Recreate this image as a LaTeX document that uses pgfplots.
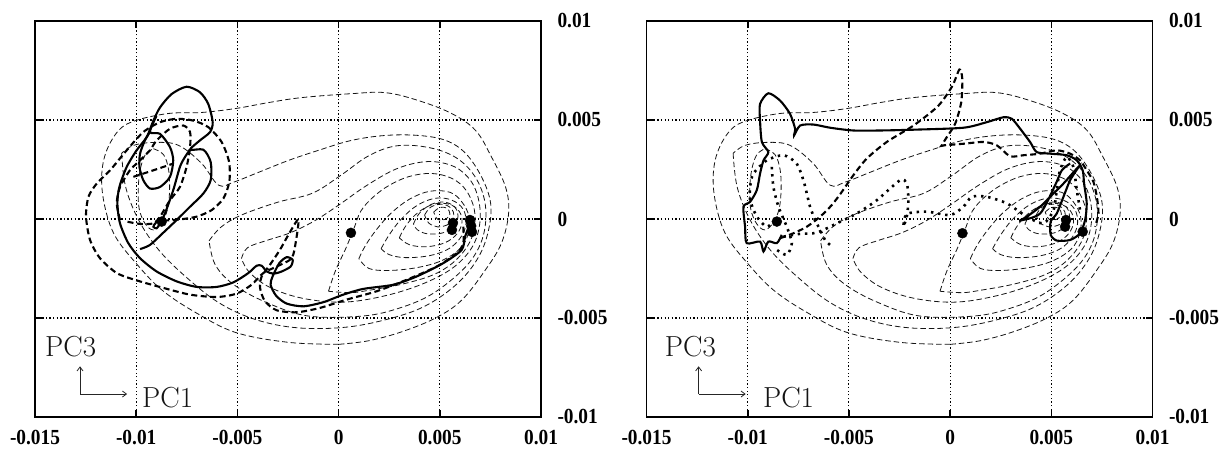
\documentclass[border=0pt]{standalone}
\usepackage{fontspec}
\usepackage{graphicx}
\usepackage{pgfplots}
\pgfplotsset{compat=1.18}
\usetikzlibrary{arrows.meta}
\newfontfamily\tickfont{Liberation Serif}
\newcommand{\tl}[1]{\scalebox{0.9}[1]{\tickfont\fontsize{21.5}{21.5}\selectfont\bfseries #1}}

\pgfplotsset{
 panel/.style={
  scale only axis, width=506pt, height=396pt,
  xmin=-15, xmax=10, ymin=-10, ymax=10,
  xtick={-15,-10,-5,0,5,10}, ytick={-10,-5,0,5,10},
  xticklabels={\tl{-0.015},\tl{-0.01},\tl{-0.005},\tl{0},\tl{0.005},\tl{0.01}},
  yticklabels={\tl{-0.01},\tl{-0.005},\tl{0},\tl{0.005},\tl{0.01}},
  yticklabel pos=right,
  xtick pos=both, ytick pos=both,
  tick align=inside,
  major tick length=7pt,
  every tick/.style={black, line width=1.6pt},
  axis line style={line width=1.6pt},
  grid=major,
  major grid style={black, line width=1.1pt, dash pattern=on 1.3pt off 2.3pt},
  xticklabel style={yshift=-10pt},
  yticklabel style={xshift=13pt},
 },
 cont/.style={no markers, smooth, tension=0.6, black!92, line width=0.8pt, dash pattern=on 5.5pt off 3pt},
 tsol/.style={no markers, smooth, tension=0.45, black, line width=2.1pt},
 tdash/.style={no markers, smooth, tension=0.45, black, line width=2.1pt, dash pattern=on 6pt off 3.5pt},
 tdot/.style={no markers, smooth, tension=0.45, black, line width=2.6pt, dash pattern=on 2.4pt off 4.8pt},
 dots/.style={only marks, mark=*, mark size=5pt, black},
}

\newcommand{\contours}{%
\addplot[cont] coordinates {(0,-6.33) (-2.47,-6.23) (-5.09,-5.73) (-7.07,-4.72) (-8.75,-3.57) (-10.03,-2.21) (-11.02,-0.90) (-11.51,0.45) (-11.71,1.96) (-11.51,3.32) (-10.87,4.47) (-10.03,4.97) (-8.40,5.33) (-6.77,5.38) (-5.09,5.58) (-3.46,5.88) (-1.83,6.13) (0.64,6.33) (2.32,6.38) (3.95,5.98) (5.58,5.33) (6.77,4.47) (7.56,3.12) (8.25,1.61) (8.40,0.30) (8.05,-1.21) (7.26,-2.56) (6.08,-4.1) (4.79,-5.0) (3.11,-5.7) (1.48,-6.15) (0,-6.33)};
\addplot[cont] coordinates {(-10.72,3.32) (-10.52,1.61) (-9.88,-0.05) (-8.89,-1.56) (-7.56,-2.91) (-5.93,-4.22) (-4.10,-5.08) (-1.98,-5.5) (0.49,-5.45) (2.82,-4.95) (4.45,-4.3) (5.93,-3.2) (6.92,-1.91) (7.41,-0.55) (7.51,0.80) (7.07,2.11) (6.27,3.32) (5.29,3.97) (3.95,4.22) (2.32,4.22) (0.64,3.97) (-0.99,3.47) (-2.47,2.96) (-3.95,2.36) (-5.19,1.86) (-5.93,1.71) (-6.77,2.81) (-7.91,3.72) (-9.04,3.87) (-10.13,3.72) (-10.72,3.32)};
\addplot[cont] coordinates {(-6.4,-1.1) (-5.8,-0.4) (-4.8,0.2) (-3.0,0.85) (-1.3,1.3) (0.1,2.2) (1.5,3.2) (2.9,3.7) (4.5,3.6) (5.8,3.1) (6.7,2.2) (7.2,1.0) (7.25,-0.3) (6.9,-1.5) (6.1,-2.6) (4.6,-3.8) (3.0,-4.5) (1.2,-4.9) (-1.5,-4.9) (-3.6,-4.2) (-5.2,-3.3) (-6.1,-2.3) (-6.4,-1.1)};
\addplot[cont] coordinates {(-4.8,-2.0) (-4.5,-1.45) (-3.6,-1.1) (-2.4,-0.7) (-1.2,-0.1) (0.0,0.7) (1.4,1.7) (2.9,2.55) (4.4,2.9) (5.7,2.65) (6.55,1.9) (6.95,0.8) (6.95,-0.4) (6.55,-1.5) (5.6,-2.5) (4.1,-3.3) (2.2,-3.9) (0.2,-4.2) (-1.8,-4.0) (-3.4,-3.45) (-4.4,-2.7) (-4.8,-2.0)};
\addplot[cont] coordinates {(-0.5,-3.65) (-0.15,-2.6) (0.35,-1.5) (0.75,-0.5) (1.1,0.4) (1.7,1.1) (2.5,1.7) (3.5,2.15) (4.6,2.3) (5.6,2.05) (6.3,1.45) (6.7,0.5) (6.7,-0.5) (6.35,-1.4) (5.6,-2.25) (4.6,-2.85) (3.1,-3.3) (1.5,-3.6) (0.6,-3.72) (-0.5,-3.65)};
\addplot[cont] coordinates {(1.0,-2.0) (1.35,-1.3) (1.9,-0.5) (2.6,0.3) (3.5,1.0) (4.5,1.4) (5.5,1.35) (6.1,0.85) (6.45,0.1) (6.4,-0.75) (6.0,-1.5) (5.1,-2.1) (3.9,-2.45) (2.5,-2.6) (1.5,-2.5) (1.0,-2.0)};
\addplot[cont] coordinates {(2.1,-1.5) (2.5,-0.8) (3.1,0.0) (3.9,0.7) (4.8,1.05) (5.6,0.95) (6.15,0.5) (6.3,-0.2) (6.05,-0.9) (5.45,-1.5) (4.5,-1.85) (3.3,-1.95) (2.5,-1.8) (2.1,-1.5)};
\addplot[cont] coordinates {(3.0,-0.95) (3.35,-0.3) (3.95,0.35) (4.7,0.75) (5.45,0.75) (5.95,0.4) (6.1,-0.15) (5.85,-0.75) (5.25,-1.2) (4.35,-1.4) (3.5,-1.3) (3.0,-0.95)};
\addplot[cont] coordinates {(3.7,-0.25) (4.0,0.3) (4.6,0.75) (5.25,0.85) (5.75,0.6) (5.9,0.15) (5.7,-0.35) (5.15,-0.7) (4.4,-0.75) (3.9,-0.55) (3.7,-0.25)};
\addplot[cont] coordinates {(4.25,0.2) (4.55,0.6) (5.1,0.75) (5.55,0.55) (5.7,0.15) (5.45,-0.25) (4.9,-0.4) (4.45,-0.2) (4.25,0.2)};
\addplot[cont] coordinates {(4.7,0.35) (5.0,0.58) (5.35,0.55) (5.5,0.25) (5.3,0.0) (4.9,-0.02) (4.7,0.35)};
\addplot[cont] coordinates {(-9.15,3.55) (-8.65,3.25) (-8.4,2.5) (-8.35,1.5) (-8.45,0.5) (-8.75,-0.2) (-9.15,-0.55) (-9.55,-0.25) (-9.85,0.5) (-9.9,1.5) (-9.8,2.5) (-9.55,3.25) (-9.15,3.55)};
}

\newcommand{\pclabels}[4]{%
\node[anchor=base west, inner sep=0pt, text=black!92, font=\fontsize{29}{29}\selectfont] at (rel axis cs:#1,0.153) {PC3};
\node[anchor=base west, inner sep=0pt, text=black!92, font=\fontsize{29}{29}\selectfont] at (rel axis cs:#2,0.023) {PC1};
\draw[black!85, line width=0.8pt, -{Straight Barb[length=4pt,width=6pt]}] (rel axis cs:#3,0.058) -- (rel axis cs:#3,0.128);
\draw[black!85, line width=0.8pt, -{Straight Barb[length=4pt,width=6pt]}] (rel axis cs:#3,0.058) -- (rel axis cs:#4,0.058);
}

\begin{document}
\begin{tikzpicture}
\path[use as bounding box] (0,0) rectangle (1230pt,450pt);

% ---------------- left panel ----------------
\begin{axis}[panel, at={(35pt,33pt)}, anchor=south west]
\contours
\addplot[tsol] coordinates {(6.49,-0.22) (6.25,-0.89) (6.08,-1.56) (5.17,-2.23) (3.86,-2.90) (2.70,-3.32) (1.22,-3.53) (0.23,-3.82) (-0.75,-4.20) (-1.74,-4.41) (-2.57,-4.27) (-3.09,-3.87) (-3.36,-3.32) (-3.26,-2.90) (-2.93,-2.23) (-2.57,-1.93) (-2.27,-2.06) (-2.37,-2.40) (-2.81,-2.65) (-3.22,-2.76) (-3.55,-2.65) (-3.80,-2.36) (-4.05,-2.36) (-4.46,-2.73) (-5.20,-3.20) (-6.02,-3.43) (-7.01,-3.43) (-8.00,-3.15) (-8.99,-2.65) (-9.81,-1.98) (-10.39,-1.22) (-10.80,-0.22) (-10.93,0.79) (-10.83,1.62) (-10.47,2.63) (-9.98,3.47) (-9.48,4.14) (-9.15,4.97) (-8.82,5.64) (-8.25,6.31) (-7.51,6.68) (-6.85,6.40) (-6.44,5.81) (-6.22,4.89) (-6.35,4.39) (-6.85,3.97) (-7.34,3.50) (-6.68,3.50) (-6.32,2.88) (-6.32,1.96) (-6.68,1.29) (-7.34,0.62) (-8.00,-0.05) (-8.66,-0.69) (-9.32,-1.31) (-9.81,-1.52)};
\addplot[tsol] coordinates {(-7.34,3.50) (-7.59,3.13) (-7.84,2.63) (-8.17,1.46) (-8.58,0.28) (-8.82,-0.22) (-8.99,-0.47) (-9.15,-0.39) (-9.02,-0.18) (-8.69,-0.08)};
\addplot[tsol] coordinates {(-9.0,5.2) (-9.32,4.39) (-8.82,4.30) (-8.33,3.63) (-8.17,2.96) (-8.33,2.13) (-8.82,1.62) (-9.32,1.54) (-9.65,1.96) (-9.84,2.63) (-9.81,3.30) (-9.57,3.97) (-9.32,4.39)};
\addplot[tdash] coordinates {(6.16,-0.39) (6.16,-1.22) (5.83,-1.73) (4.85,-2.40) (3.36,-3.07) (1.88,-3.65) (0.40,-4.07) (-0.92,-4.49) (-2.07,-4.71) (-3.06,-4.61) (-3.64,-4.15) (-3.88,-3.48) (-3.80,-2.90) (-3.39,-2.31) (-2.90,-1.56) (-2.48,-0.80) (-1.99,-0.02) (-2.10,-1.06) (-2.32,-1.98) (-3.06,-2.40) (-3.72,-2.73) (-4.30,-3.32) (-5.04,-3.77) (-6.02,-3.94) (-7.34,-3.82) (-8.66,-3.48) (-9.98,-3.10) (-10.96,-2.73) (-11.79,-1.98) (-12.28,-1.06) (-12.48,0.12) (-12.36,1.12) (-11.95,1.79) (-11.29,2.46) (-10.47,3.47) (-9.65,4.39) (-8.82,4.89) (-8.00,5.06) (-7.18,4.97) (-6.44,4.64) (-5.78,3.89) (-5.41,2.88) (-5.40,1.88) (-5.69,1.04) (-6.27,0.45) (-7.01,0.12) (-7.84,-0.02) (-8.66,-0.08)};
\addplot[tdash] coordinates {(-10.80,-0.05) (-10.96,0.79) (-10.80,1.62) (-10.31,2.46) (-9.81,2.96) (-9.32,3.47) (-8.99,3.97) (-8.33,4.56) (-7.67,4.72) (-7.34,4.39) (-7.34,3.63) (-7.51,2.63) (-7.84,1.62) (-8.33,0.95) (-8.82,0.12) (-9.15,-0.22) (-9.81,-0.25) (-10.47,-0.13)};
\addplot[tdash] coordinates {(-10.14,2.13) (-9.15,2.46) (-8.17,2.80)};
\addplot[dots] coordinates {(5.65,-0.2) (5.6,-0.55) (6.49,-0.05) (6.59,-0.65) (6.55,-0.35) (0.61,-0.70) (-8.74,-0.13)};
\pclabels{0.0198}{0.2115}{0.089}{0.182}
\end{axis}

% ---------------- right panel ----------------
\begin{axis}[panel, at={(646.5pt,33pt)}, anchor=south west]
\contours
\addplot[tsol] coordinates {(-8.32,-0.80) (-8.56,-1.22) (-8.98,-1.14) (-9.22,-1.64) (-9.39,-1.14) (-10.05,-1.22) (-10.13,-0.39) (-10.21,0.62) (-9.88,0.87) (-9.55,1.46) (-9.39,2.29) (-9.22,2.96) (-8.98,3.38) (-9.30,3.89) (-9.39,4.97) (-9.39,5.81) (-8.98,6.35) (-8.40,5.98) (-7.91,5.31) (-7.66,4.56) (-7.71,4.22) (-7.41,4.72) (-6.75,4.77) (-5.93,4.61) (-4.78,4.47) (-3.46,4.47) (-1.81,4.51) (0.66,4.61) (1.81,4.89) (2.64,5.14) (3.05,5.06) (3.46,4.56) (3.95,3.89) (4.28,3.38) (4.94,3.30) (5.76,3.22) (6.26,2.96) (6.55,2.46) (6.62,1.79) (6.75,0.79) (6.67,-0.05) (6.42,-0.72) (5.93,-1.06) (5.27,-1.09) (4.97,-0.80) (4.97,-0.13) (5.27,0.28) (5.60,1.12) (5.93,1.96) (6.34,2.63) (5.60,1.79) (5.11,1.29) (4.45,0.62) (3.79,0.12) (3.46,-0.08) (4.45,0.28) (5.19,1.71) (5.52,2.46) (5.93,2.80)};
\addplot[tdash] coordinates {(-8.40,-0.97) (-7.74,-0.72) (-7.08,-0.39) (-6.42,0.12) (-5.85,0.70) (-5.35,1.37) (-4.78,2.21) (-4.12,3.05) (-3.13,3.89) (-1.81,4.72) (-0.6,5.7) (0.1,6.7) (0.46,7.55) (0.6,7.1) (0.55,5.9) (0.25,4.81) (-0.16,4.14) (-0.41,3.72) (-0.33,3.72) (0.66,3.80) (1.65,3.89) (2.31,3.72) (2.96,3.17) (3.62,3.22) (4.45,3.30) (5.27,3.47) (5.93,3.30) (6.42,2.96) (6.75,2.46) (7.08,1.88) (7.25,1.12) (7.33,0.28) (7.16,-0.39)};
\addplot[tdot] coordinates {(-8.65,-0.05) (-9.06,-0.39) (-9.55,0.12) (-9.88,0.95) (-9.88,1.62) (-9.72,2.29) (-9.06,2.96) (-8.23,3.22) (-7.58,2.80) (-7.25,1.96) (-7.08,1.29) (-6.92,0.62) (-6.67,-0.05) (-6.42,-0.55) (-6.18,-1.06) (-5.93,-1.31)};
\addplot[tdot] coordinates {(-8.81,2.63) (-8.73,1.62) (-8.48,0.62) (-8.07,-0.39) (-7.82,-1.22) (-8.07,-1.81) (-8.56,-1.56)};
\addplot[tdot] coordinates {(-8.23,-0.89) (-7.41,-0.75) (-6.59,-0.69) (-5.60,-0.22) (-4.61,0.28) (-3.62,0.95) (-2.47,1.96) (-2.14,1.79) (-2.06,0.95) (-2.14,0.12) (-2.31,-0.39) (-2.14,0.25) (-1.15,0.37) (0,0.20) (0.66,0.62) (1.07,1.12) (1.81,1.12) (2.80,0.79) (3.79,0.12) (4.61,-0.22) (5.11,0.45) (5.27,1.46) (5.43,2.46) (5.76,3.13) (6.09,2.63) (6.26,1.46) (6.42,0.45)};
\addplot[dots] coordinates {(5.73,-0.05) (5.68,-0.39) (6.55,-0.64) (0.61,-0.72) (-8.56,-0.13)};
\pclabels{0.036}{0.23}{0.103}{0.196}
\end{axis}
\end{tikzpicture}
\end{document}
